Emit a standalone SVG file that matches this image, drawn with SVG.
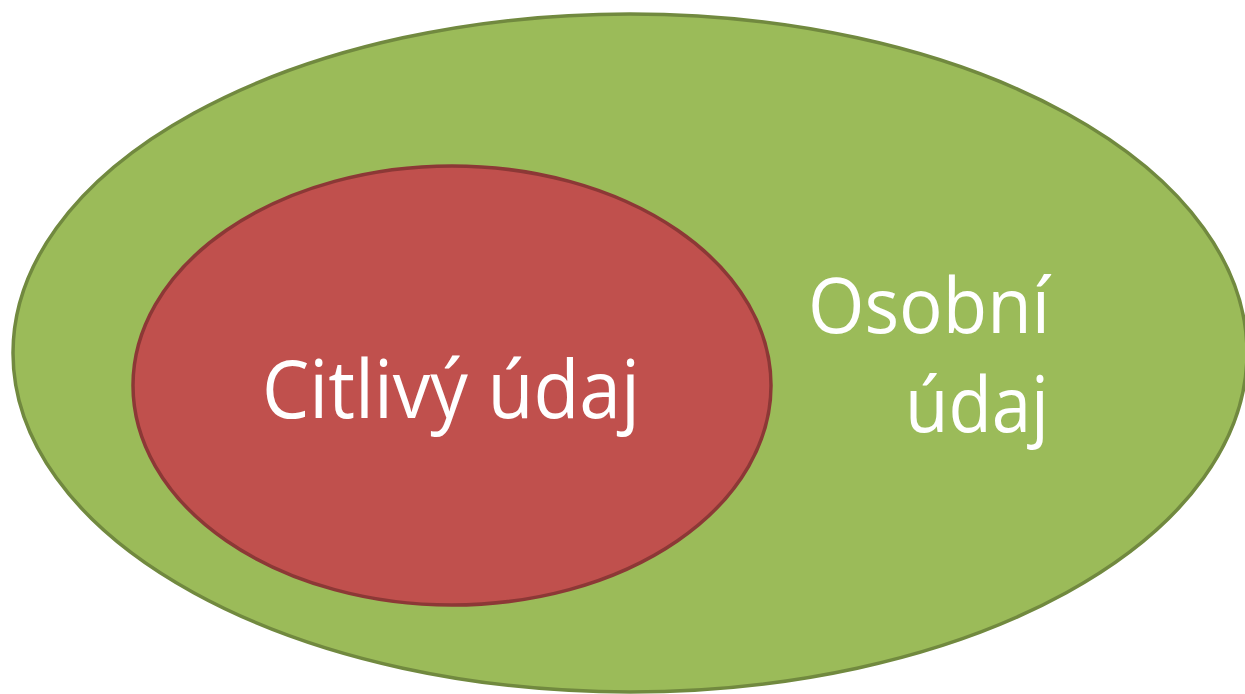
<svg xmlns="http://www.w3.org/2000/svg" width="1245" height="694" viewBox="0 0 1245 694">
<style>
.lbl{font-family:"Open Sans","Liberation Sans",sans-serif;fill:#ffffff;}
</style>
<rect width="1245" height="694" fill="#ffffff"/>
<g id="osobni">
<ellipse cx="630" cy="353" rx="617" ry="339" fill="#9BBB59" stroke="#71893F" stroke-width="3.5"/>
<text class="lbl" x="1050" y="333" font-size="76" text-anchor="end" textLength="242" lengthAdjust="spacingAndGlyphs">Osobní</text>
<text class="lbl" x="1049" y="432" font-size="76" text-anchor="end" textLength="144" lengthAdjust="spacingAndGlyphs">údaj</text>
</g>
<g id="citlivy">
<ellipse cx="452" cy="385.5" rx="319" ry="219.5" fill="#C0504D" stroke="#8C3836" stroke-width="3.5"/>
<text class="lbl" x="262" y="418" font-size="80" textLength="378" lengthAdjust="spacingAndGlyphs">Citlivý údaj</text>
</g>
<g id="connectors"/>
</svg>
